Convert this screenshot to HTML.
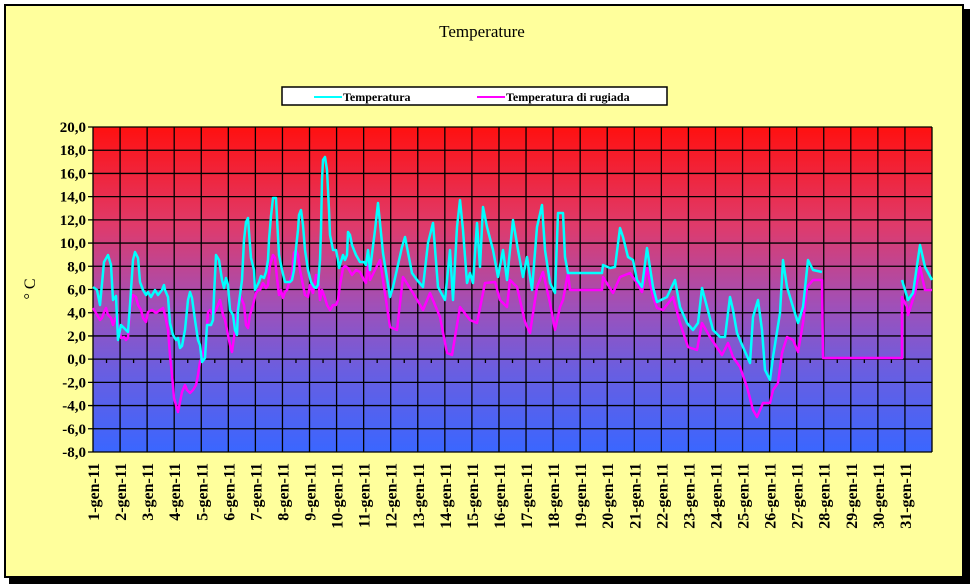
<!DOCTYPE html>
<html><head><meta charset="utf-8"><style>
html,body{margin:0;padding:0;background:#fff}
svg{display:block}
text{font-family:"Liberation Serif",serif}
</style></head><body>
<svg width="970" height="584" viewBox="0 0 970 584" xmlns="http://www.w3.org/2000/svg">
<defs>
<linearGradient id="g" x1="0" y1="127" x2="0" y2="452" gradientUnits="userSpaceOnUse">
<stop offset="0" stop-color="#ff1010"/>
<stop offset="0.3" stop-color="#e03a6a"/>
<stop offset="0.55" stop-color="#a050b8"/>
<stop offset="0.75" stop-color="#6a5ee0"/>
<stop offset="1" stop-color="#3a66ff"/>
</linearGradient>
</defs>
<rect x="9" y="9" width="961" height="575" fill="#000"/>
<rect x="5" y="5" width="958" height="572" fill="#ffff9c" stroke="#000" stroke-width="2"/>
<text x="482" y="37" font-size="17" text-anchor="middle">Temperature</text>
<rect x="282" y="87" width="385" height="18" fill="#fff" stroke="#000" stroke-width="1.5"/>
<line x1="314" y1="97" x2="342" y2="97" stroke="#00ffff" stroke-width="2"/>
<text x="343" y="101" font-size="12" font-weight="bold">Temperatura</text>
<line x1="477" y1="97" x2="505" y2="97" stroke="#ff00ff" stroke-width="2"/>
<text x="506" y="101" font-size="12" font-weight="bold">Temperatura di rugiada</text>
<rect x="93" y="127" width="839" height="325" fill="url(#g)"/>
<g stroke="#000" stroke-width="1.3" id="grid"></g>
<g id="labels" font-size="15" font-weight="bold" text-anchor="end"></g>
<text transform="translate(35,289) rotate(-90)" font-size="16" text-anchor="middle">° C</text>
<polyline fill="none" stroke="#ff00ff" stroke-width="2.5" stroke-linejoin="round" points="93,308 96,313 100,320 102,318 104,312 106,308 108,315 111,318 113,325 114,322 117,315 119,328 121,338 124,337 126,340 128,338 130,310 133,295 136,297 138,305 141,310 143,318 146,322 148,312 152,310 156,313 160,310 163,308 165,315 168,330 170,355 172,375 174,398 176,405 178,412 180,402 182,392 185,385 187,390 190,393 193,390 196,385 198,375 200,362 203,355 206,340 208,312 210,310 213,315 216,310 220,300 223,315 225,320 227,330 230,345 232,352 235,330 238,305 240,295 242,300 244,305 246,325 248,328 250,315 253,305 256,293 258,290 260,290 263,283 266,288 268,285 270,265 273,255 275,258 277,278 279,295 281,290 283,298 285,292 287,290 289,283 292,275 294,253 296,250 298,255 300,270 303,285 305,295 308,297 310,285 313,293 316,275 318,276 320,300 322,290 325,298 327,305 330,310 333,305 336,305 338,300 340,285 343,268 345,266 348,268 352,275 356,270 360,272 364,280 366,283 368,265 370,280 380,260 390,327 397,330 403,277 413,293 423,310 430,293 440,317 447,353 452,355 460,307 470,320 477,323 485,283 495,282 500,300 507,307 510,280 517,287 525,322 530,333 537,287 543,272 550,303 555,330 560,307 563,300 568,273 570,290 602,290 603,277 613,293 620,277 630,273 637,283 642,292 647,268 653,297 657,308 663,310 673,297 680,323 688,347 697,350 702,323 710,337 722,355 728,343 733,357 740,367 747,387 753,410 757,417 763,403 770,403 773,390 778,383 782,353 787,337 793,340 798,352 803,323 807,287 813,280 822,280 823,358 902,358 902,297 907,307 908,315 915,293 920,267 925,290 932,290"/>
<polyline fill="none" stroke="#00ffff" stroke-width="2.5" stroke-linejoin="round" points="93,287 97,290 100,305 104,262 108,255 111,265 113,300 116,296 118,340 121,325 124,328 126,330 128,332 130,305 133,260 135,252 138,258 140,282 143,290 146,295 148,292 151,297 155,290 158,295 162,290 164,285 165,290 168,297 170,323 173,335 176,340 178,338 180,348 182,346 185,330 188,300 190,292 192,298 195,320 198,340 200,345 202,362 205,358 207,325 211,325 213,320 214,296 216,255 219,260 222,280 224,288 226,278 228,285 230,310 233,315 235,330 237,335 238,310 240,295 242,280 244,240 246,222 248,218 249,232 251,258 254,270 255,290 259,282 261,276 264,278 266,272 268,260 269,240 271,216 273,198 276,198 277,218 279,255 282,270 285,282 287,282 290,282 292,280 294,270 296,248 298,230 299,215 301,210 303,225 305,250 308,270 311,282 314,287 316,288 318,285 320,260 321,230 322,180 323,160 325,157 327,170 329,210 330,235 333,250 336,250 338,260 339,268 343,255 345,260 347,255 348,232 350,235 352,245 356,255 360,262 364,262 366,265 368,250 370,270 375,230 378,203 383,253 390,297 393,287 402,247 405,237 412,273 417,280 423,287 428,243 433,223 438,287 445,300 450,250 453,300 457,227 460,200 463,230 467,283 470,273 473,283 477,223 480,267 483,207 487,227 493,250 498,277 503,250 507,280 512,230 513,220 518,250 523,277 527,257 532,290 537,227 542,205 545,250 550,283 555,293 558,213 563,213 565,257 568,273 602,273 603,265 610,268 615,267 620,228 623,237 628,257 633,260 637,280 642,287 647,248 653,287 657,302 667,297 675,280 680,307 687,323 693,330 698,323 702,288 707,307 713,330 720,337 725,337 730,297 733,310 737,333 743,347 750,363 753,317 758,300 762,330 765,370 770,380 773,357 780,313 783,260 787,287 793,307 798,323 803,307 808,260 813,270 822,272"/>
<polyline fill="none" stroke="#00ffff" stroke-width="2.5" stroke-linejoin="round" points="902,280 908,300 913,293 920,245 925,267 932,280"/>
<g id="xl" font-size="16" font-weight="bold" text-anchor="end"></g>
<script>
var ns="http://www.w3.org/2000/svg",g=document.getElementById('grid'),L=document.getElementById('labels'),X=document.getElementById('xl');
function ln(a,b,c,d){var l=document.createElementNS(ns,'line');l.setAttribute('x1',a);l.setAttribute('y1',b);l.setAttribute('x2',c);l.setAttribute('y2',d);g.appendChild(l);}
for(var i=0;i<=14;i++){var y=127+i*325/14;ln(88,y,932,y);var t=document.createElementNS(ns,'text');t.setAttribute('x',86);t.setAttribute('y',y+5);t.textContent=(20-2*i).toFixed(1).replace('.',',');L.appendChild(t);}
var dx=839/31;
for(var k=0;k<=31;k++){var x=93+k*dx;ln(x,127,x,452);
 if(k<31){ln(x+dx/2,359,x+dx/2,363);
 var t=document.createElementNS(ns,'text');t.setAttribute('transform','translate('+(x+6)+',463) rotate(-90)');t.textContent=(k+1)+'-gen-11';X.appendChild(t);}}
</script>
</svg>
</body></html>
